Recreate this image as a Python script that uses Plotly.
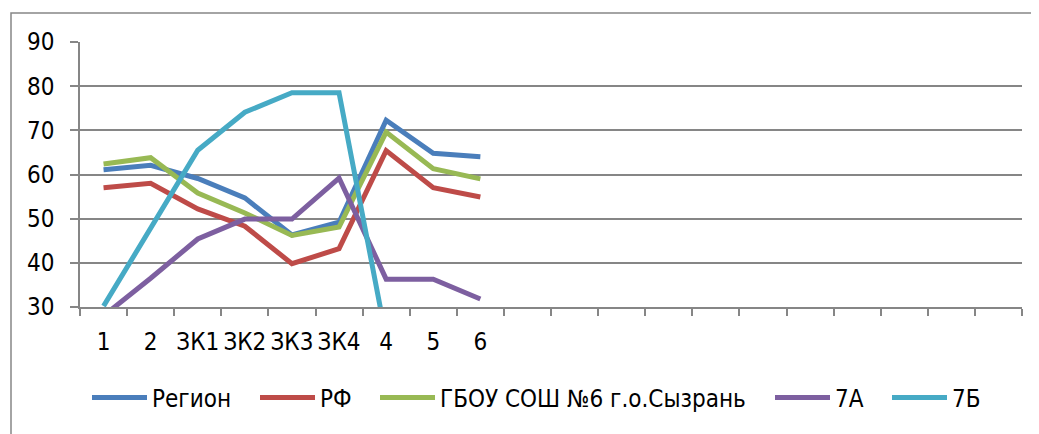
import plotly.graph_objects as go

categories = ["1", "2", "ЗК1", "ЗК2", "ЗК3", "ЗК4", "4", "5", "6"]
n_empty = 11
region = [61.1, 62.1, 59.1, 54.7, 46.3, 49.2, 72.3, 64.8, 64.0]
rf = [57.0, 58.0, 52.2, 48.3, 39.8, 43.2, 65.4, 57.0, 54.9]
school = [62.4, 63.8, 55.8, 51.3, 46.2, 48.1, 69.6, 61.3, 59.0]
class_7a = [28.0, 36.5, 45.4, 49.9, 49.9, 59.2, 36.3, 36.3, 31.8]
class_7b = [30.2, 47.9, 65.5, 74.1, 78.5, 78.5, 23.0, None, None]

names = ["Регион", "РФ", "ГБОУ СОШ №6 г.о.Сызрань", "7А", "7Б"]
colors = ["#4A7EBB", "#BE4B48", "#98B954", "#7D5FA0", "#46AAC5"]
series = [region, rf, school, class_7a, class_7b]

pad_cats = [" " * (i + 1) for i in range(n_empty)]
all_cats = categories + pad_cats

FONT = "Liberation Sans Narrow, Arial Narrow, DejaVu Sans Condensed, Liberation Sans, sans-serif"

# plot area geometry (px)
L, T, PW, PH = 72, 34, 942, 265
W, H = 1031, 426

legend_ids = ["legend", "legend2", "legend3", "legend4", "legend5"]
legend_px = [94, 262, 382, 777, 894]

fig = go.Figure()
for name, vals, col, lid in zip(names, series, colors, legend_ids):
    fig.add_trace(go.Scatter(
        x=categories, y=vals, name=name, mode="lines",
        line=dict(color=col, width=5),
        connectgaps=False, legend=lid,
    ))

legend_layout = {}
for lid, px in zip(legend_ids, legend_px):
    legend_layout[lid] = dict(
        orientation="h", x=(px - 7 - 80) / PW, xanchor="left",
        y=-0.343, yanchor="middle", itemwidth=55,
        font=dict(size=24), bgcolor="rgba(0,0,0,0)",
    )

fig.update_layout(
    width=W, height=H,
    margin=dict(l=L, r=W - L - PW, t=T, b=H - T - PH, autoexpand=False),
    paper_bgcolor="white", plot_bgcolor="white",
    font=dict(family=FONT, size=24, color="black"),
    showlegend=True,
    xaxis=dict(type="category", categoryorder="array", categoryarray=all_cats,
               range=[-0.5, len(all_cats) - 0.5], automargin=False, tickangle=0,
               tickson="boundaries", ticks="outside", ticklen=7, tickcolor="#868686",
               tickwidth=1.5, showline=True, linecolor="#868686", linewidth=1.5,
               showgrid=False, ticklabelstandoff=12, fixedrange=True),
    yaxis=dict(range=[30, 90], dtick=10, ticks="outside", ticklen=8, tickcolor="#868686",
               tickwidth=1.5, showline=True, linecolor="#868686", linewidth=1.5,
               showgrid=True, gridcolor="#868686", gridwidth=1.5, zeroline=False,
               automargin=False, ticklabelstandoff=11, fixedrange=True),
    shapes=[dict(type="rect", xref="paper", yref="paper",
                 x0=(11 - 80) / PW, x1=(1050 - 80) / PW,
                 y0=(307 - 450) / PH, y1=(307 - 13) / PH,
                 line=dict(color="#868686", width=1.5), fillcolor="rgba(0,0,0,0)",
                 layer="below")],
    **legend_layout,
)

fig.write_html("out.html")
